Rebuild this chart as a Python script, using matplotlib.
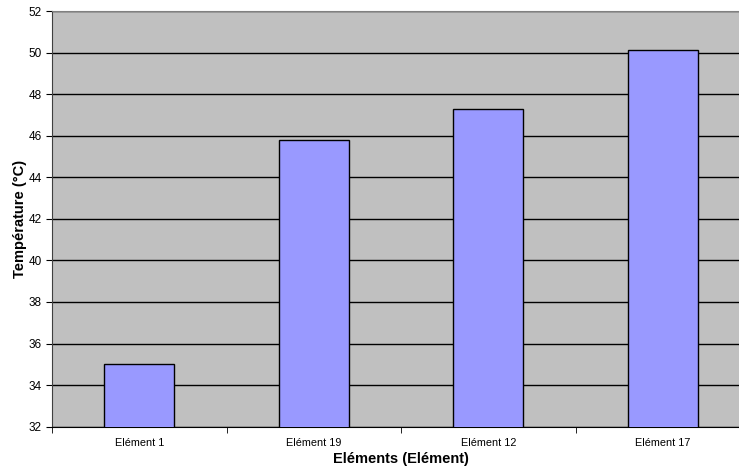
import matplotlib
matplotlib.use("Agg")
import matplotlib.pyplot as plt
import numpy as np

plt.rcParams['font.family'] = ['Liberation Sans', 'DejaVu Sans']

categories = ['Elément 1', 'Elément 19', 'Elément 12', 'Elément 17']
temperatures = [35.0, 45.8, 47.3, 50.1]

fig = plt.figure(figsize=(7.39, 4.69), dpi=100)
# plot area runs slightly past the right edge of the picture
ax = fig.add_axes([52 / 739, 42.3 / 469, 698 / 739, (426.7 - 11) / 469])
ax.set_facecolor('#C0C0C0')

x = np.arange(len(categories))
ax.bar(x, temperatures, width=0.40, color='#9999FF', edgecolor='black',
       linewidth=1, zorder=3)

ax.set_ylim(32, 52)
ax.set_yticks(np.arange(32, 53, 2))
ax.yaxis.grid(True, color='black', linewidth=1)
ax.set_axisbelow(True)

ax.set_xlim(-0.5, len(categories) - 0.5)
ax.set_xticks(x)
ax.set_xticklabels(categories, fontsize=7.8)
ax.set_xticks(np.arange(-0.5, len(categories)), minor=True)
ax.tick_params(axis='x', which='major', length=0, pad=8)
ax.tick_params(axis='x', which='minor', length=4, direction='out', color='black')
ax.tick_params(axis='y', labelsize=8.5, length=4, direction='out')

ax.spines['top'].set_color('#808080')
ax.spines['right'].set_visible(False)
ax.spines['left'].set_color('#404040')
ax.spines['bottom'].set_color('black')

ax.set_xlabel('Eléments (Elément)', fontsize=10.5, fontweight='bold', labelpad=3)
ax.set_ylabel('Température (°C)', fontsize=10.5, fontweight='bold', labelpad=1)

fig.savefig('out.png', dpi=100)
